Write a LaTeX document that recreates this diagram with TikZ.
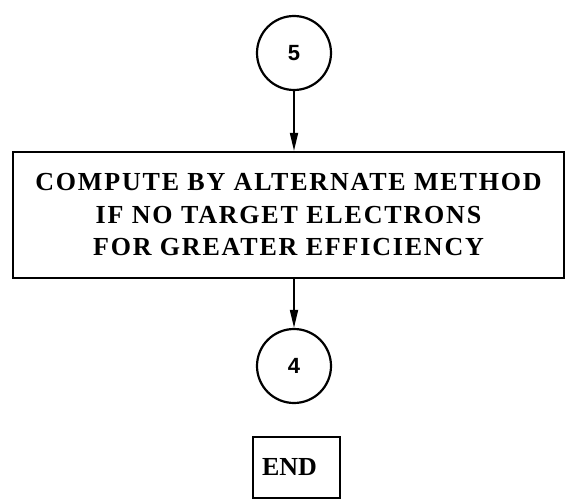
\documentclass[tikz,border=0pt]{standalone}
\usepackage{fontspec}
\setmainfont{Liberation Serif}
\newfontfamily\boxfont[LetterSpace=7]{Liberation Serif}
\newfontfamily\numfont{Liberation Sans}
\usetikzlibrary{arrows.meta}
\begin{document}
\begin{tikzpicture}[x=1pt,y=-1pt,
  line width=2.2pt,
  conn/.style={line width=1.8pt,-{Triangle[length=18pt,width=8pt]}},
  conncircle/.style={draw,circle,minimum size=74pt,inner sep=0pt,font=\numfont\bfseries\fontsize{22}{22}\selectfont},
  procbox/.style={draw,rectangle,minimum width=551pt,minimum height=126pt,inner sep=0pt,align=center,font=\boxfont\bfseries\fontsize{26}{32.5}\selectfont},
  endbox/.style={draw,rectangle,minimum height=61pt,inner xsep=9pt,inner ysep=0pt,text width=69pt,align=left,font=\bfseries\fontsize{26}{26}\selectfont}
]
\useasboundingbox (0,0) rectangle (567,500);
\node[conncircle] (c5) at (294,53) {5};
\node[procbox] (proc) at (288.5,215) {COMPUTE BY ALTERNATE METHOD\\IF NO TARGET ELECTRONS\\FOR GREATER EFFICIENCY};
\node[conncircle] (c4) at (294,366) {4};
\node[endbox] (end) at (296.5,467.5) {END};
\draw[conn] (c5.south) -- (c5.south |- proc.north);
\draw[conn] (c4.north |- proc.south) -- (c4.north);
\end{tikzpicture}
\end{document}
